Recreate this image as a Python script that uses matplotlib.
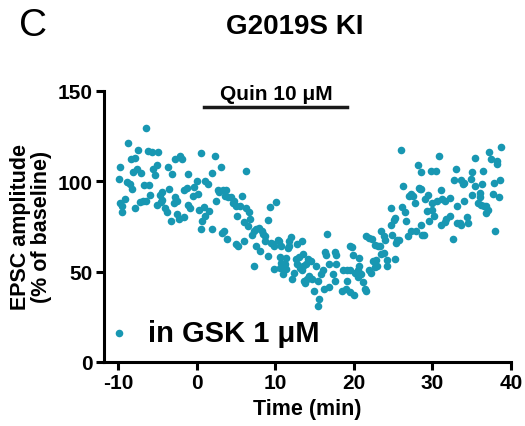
import matplotlib
matplotlib.use('Agg')
from matplotlib import pyplot as plt
import numpy as np

plt.rcParams['font.family'] = ['Liberation Sans', 'DejaVu Sans']
plt.rcParams['axes.unicode_minus'] = False

# time (min) and EPSC amplitude (% of baseline)
t_base = [-9.9, -9.7, -9.7, -9.5, -9.5, -9.1, -8.9, -8.7, -8.5, -8.4,
          -8.2, -8.1, -7.9, -7.8, -7.6, -7.5, -7.2, -7.1, -6.8, -6.7,
          -6.5, -6.4, -6.2, -6.1, -5.9, -5.7, -5.6, -5.3, -5.1, -5.1,
          -4.9, -4.7, -4.6, -4.4, -4.4, -4.0, -3.8, -3.7, -3.5, -3.3,
          -3.2, -2.9, -2.8, -2.7, -2.5, -2.5, -2.2, -2.1, -1.8, -1.6,
          -1.6, -1.2, -1.1, -1.1, -0.9, -0.4, -0.3, 0.1, 0.2]
v_base = [101, 108, 88, 83, 86.5, 90, 99.7, 121.4, 98.5, 112,
          95.8, 105, 85, 113, 107, 117.5, 88.6, 104.6, 89, 98,
          129.6, 89, 116.6, 97.8, 92.5, 116, 107, 103.5, 108.7, 87,
          116.4, 92.6, 88.6, 94, 89.5, 85, 83, 108, 95.8, 78,
          103.7, 88, 91, 112, 89, 82, 79, 114, 112, 80,
          95, 96, 103.7, 87, 85, 92, 97, 100, 93]

t_quin1 = [0.3, 0.5, 0.6, 0.7, 0.9, 1.1, 1.1, 1.5, 1.6, 1.9,
           2.0, 2.3, 2.5, 2.7, 2.9, 3.1, 3.2, 3.3, 3.5, 3.6,
           3.7, 3.9, 4.0, 4.4, 4.6, 4.8, 5.0, 5.0, 5.1, 5.3,
           5.5, 5.8, 6.0, 6.0, 6.3, 6.3, 6.6, 6.7, 6.8, 7.0,
           7.3, 7.3, 7.6, 7.6, 8.0, 8.1, 8.3, 8.5, 8.7, 8.7,
           9.1, 9.1, 9.3, 9.5, 9.7, 9.9, 9.9, 10.1]
v_quin1 = [83.9, 73.6, 115.7, 78, 85.6, 100, 80.5, 98.5, 83.5, 104.6,
           73.8, 114, 89, 94.9, 93.9, 107.8, 71.5, 94.9, 72.4, 92,
           94.9, 67.8, 91, 91, 88, 89, 86, 65, 81, 64,
           86, 92, 67, 77.3, 105.4, 85, 75, 83, 79, 70.3,
           72.5, 53.3, 73.4, 64, 74, 61.6, 72.5, 70.6, 69.7, 67,
           78.8, 58.5, 85.6, 66, 65.4, 64, 51.5, 88.4]

t_quin2 = [10.3, 10.5, 10.6, 10.6, 10.8, 10.8, 11.0, 11.2, 11.4, 11.4,
           11.6, 11.7, 11.8, 12.0, 12.2, 12.4, 12.6, 12.8, 12.8, 13.0,
           13.2, 13.4, 13.4, 13.6, 13.6, 13.7, 13.8, 13.9, 14.0, 14.2,
           14.3, 14.5, 14.7, 15.0, 15.2, 15.4, 15.5, 15.6, 15.8, 16.1,
           16.2, 16.3, 16.5, 16.6, 16.9, 16.9, 17.3, 17.6, 17.6, 17.8,
           17.8, 18.5, 18.6, 19.0, 19.1, 19.1, 19.5, 19.5, 19.5, 19.8]
v_quin2 = [67.7, 67, 58.3, 52, 64, 55, 48.7, 54.3, 57.4, 51.5,
           63, 64.4, 67, 69, 46, 49, 57, 54, 65, 58,
           52, 66.8, 50.9, 59.6, 53, 45, 43.5, 54, 46, 57,
           47.8, 56, 46, 39.5, 53.3, 45, 30.8, 34.9, 48.7, 51.1,
           40.4, 60.7, 58.9, 70.9, 54.3, 41.3, 48.7, 60.7, 45, 58.9,
           54.3, 39, 50.6, 40.4, 45, 51.1, 64, 50.6, 38.6, 63.5]

t_wash1 = [19.9, 20.0, 20.2, 20.5, 20.5, 20.7, 20.7, 20.9, 21.2, 21.4,
           21.5, 21.6, 21.9, 22.0, 22.2, 22.3, 22.4, 22.7, 22.7, 22.8,
           23.0, 23.1, 23.3, 23.5, 23.5, 23.8, 23.8, 24.0, 24.2, 24.2,
           24.7, 24.8, 24.9, 25.1, 25.3, 25.3, 25.4, 25.5, 25.8, 26.0,
           26.1, 26.3, 26.5, 26.6, 26.9, 27.0, 27.3, 27.3, 27.6, 27.8,
           27.9, 28.2, 28.3, 28.4, 28.6, 28.6, 28.6, 28.7, 29.0, 29.1,
           29.3, 29.5, 29.6]
v_wash1 = [59.2, 37.1, 49.3, 50.6, 46.9, 57.4, 52.9, 48.7, 44.5, 40.4,
           69.6, 39.5, 68.5, 50.6, 49.3, 68, 56, 64.8, 52.3, 56.6,
           52.9, 64.4, 64.4, 72.7, 59.8, 69.6, 60.4, 67.7, 56.6, 53.3,
           75.9, 85.3, 70.3, 78.7, 79.6, 57, 65.9, 67.7, 67.7, 117.4,
           85.6, 97.3, 82.9, 78.2, 69.6, 92, 93, 72.7, 92, 87.9,
           72.7, 109, 96, 95.8, 95.5, 105, 75.5, 70.3, 70.3, 89.9,
           83.5, 92.5, 78.2]

t_wash2 = [29.9, 30.0, 30.0, 30.2, 30.5, 30.6, 30.8, 31.1, 31.1, 31.2,
           31.6, 31.6, 31.8, 32.2, 32.2, 32.7, 32.8, 33.0, 33.1, 33.2,
           33.5, 33.6, 33.7, 33.9, 34.0, 34.1, 34.4, 34.5, 34.9, 35.0,
           35.1, 35.4, 35.5, 35.8, 36.1, 36.1, 36.2, 36.3, 36.5, 36.6,
           36.9, 36.9, 37.1, 37.2, 37.5, 37.7, 37.8, 38.0, 38.2, 38.3,
           38.5, 38.6, 38.8]
v_wash2 = [105.4, 88, 83.8, 81, 105.5, 88.8, 113.9, 94.9, 75.9, 90.3,
           89.3, 77.4, 79.2, 90.6, 80.7, 68, 100.8, 106.9, 76.9, 86.2,
           77, 100.4, 75.5, 98.6, 89.3, 99.2, 80.1, 77, 101.3, 105,
           92.5, 97.3, 113, 88, 91.5, 93.6, 86.9, 98.6, 105.9, 86.5,
           86.5, 82.5, 84.3, 116.1, 112, 93, 99.1, 72.7, 109.6, 110.9,
           91.2, 100.9, 118.9]

drug_start = 1.0
drug_end = 19.2

times = np.concatenate([t_base, t_quin1, t_quin2, t_wash1, t_wash2])
amps = np.concatenate([v_base, v_quin1, v_quin2, v_wash1, v_wash2])

fig = plt.figure(figsize=(5.25, 4.27), dpi=100)
ax = fig.add_axes([0.198, 0.150, 0.775, 0.635])

ax.scatter(times, amps, s=30, color='#1897b2', linewidths=0, label='in GSK 1 μM',
           clip_on=False, zorder=3)

# drug application bar
ax.plot([drug_start, drug_end], [141, 141], color='#1a1a1a', lw=2.5, clip_on=False)
ax.text((drug_start + drug_end) / 2, 143.2, 'Quin 10 μM', ha='center', va='bottom',
        fontsize=15, fontweight='bold')

ax.set_xlim(-11.8, 40)
ax.set_ylim(0, 150)
ax.set_xticks([-10, 0, 10, 20, 30, 40])
ax.set_yticks([0, 50, 100, 150])
for s in ['top', 'right']:
    ax.spines[s].set_visible(False)
for s in ['left', 'bottom']:
    ax.spines[s].set_linewidth(2.2)
ax.tick_params(width=2.2, length=6, labelsize=15, pad=2)
for lab in ax.get_xticklabels() + ax.get_yticklabels():
    lab.set_fontweight('bold')

ax.set_xlabel('Time (min)', fontsize=15.5, fontweight='bold', labelpad=4)
ax.set_ylabel('EPSC amplitude\n(% of baseline)', fontsize=15.5, fontweight='bold',
              labelpad=4, linespacing=1.0)

leg = ax.legend(loc='lower left', bbox_to_anchor=(-0.02, 0.012), frameon=False,
                handlelength=0.8, handletextpad=0.6, borderaxespad=0,
                prop={'weight': 'bold', 'size': 21})

fig.text(0.036, 0.94, 'C', fontsize=28, ha='left', va='center')
fig.text(0.562, 0.937, 'G2019S KI', fontsize=20, fontweight='bold', ha='center', va='center')

plt.savefig('out.png', dpi=100)
plt.close()
